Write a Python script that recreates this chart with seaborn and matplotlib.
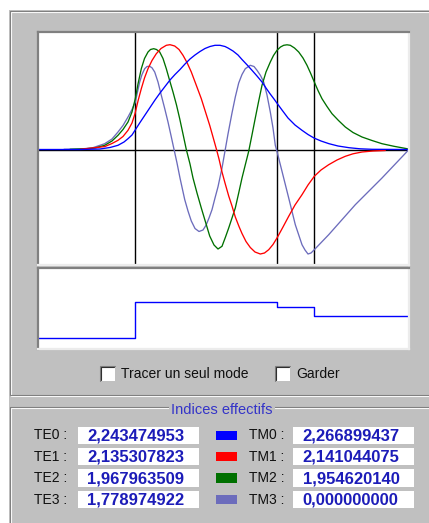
import pandas as pd
import seaborn as sns
import matplotlib.pyplot as plt
from matplotlib.patches import Rectangle

# mode field profiles (x in um, amplitude normalised)
mode0_x = [0.00, 0.42, 0.62, 0.72, 0.80, 0.86, 0.90, 0.94, 0.97, 1.02, 1.07, 1.12, 1.17, 1.22,
           1.27, 1.32, 1.37, 1.42, 1.47, 1.52, 1.57, 1.62, 1.67, 1.72, 1.77, 1.82, 1.87, 1.90,
           1.95, 2.00, 2.04, 2.09, 2.14, 2.19, 2.24, 2.28, 2.32, 2.36, 2.39, 2.44, 2.50, 2.57,
           2.64, 2.70, 2.76, 2.83, 2.91, 3.00, 3.11, 3.22, 3.34, 3.71]
mode0_y = [0.000, 0.000, 0.005, 0.020, 0.042, 0.075, 0.108, 0.145, 0.192, 0.270, 0.345, 0.420,
           0.495, 0.565, 0.630, 0.695, 0.750, 0.800, 0.855, 0.905, 0.945, 0.980, 1.010, 1.030,
           1.042, 1.042, 1.030, 1.015, 0.985, 0.945, 0.900, 0.847, 0.792, 0.735, 0.675, 0.615,
           0.558, 0.505, 0.463, 0.395, 0.315, 0.245, 0.192, 0.150, 0.115, 0.085, 0.058, 0.035,
           0.018, 0.007, 0.002, 0.000]

mode1_x = [0.42, 0.59, 0.67, 0.74, 0.80, 0.85, 0.90, 0.94, 0.97, 1.00, 1.033, 1.065, 1.10, 1.14,
           1.183, 1.23, 1.283, 1.32, 1.367, 1.41, 1.45, 1.49, 1.533, 1.58, 1.633, 1.675, 1.717,
           1.75, 1.785, 1.81, 1.84, 1.87, 1.907, 1.94, 1.973, 2.01, 2.04, 2.08, 2.123, 2.17,
           2.223, 2.265, 2.307, 2.35, 2.39, 2.45, 2.507, 2.57, 2.64, 2.70, 2.763, 2.83, 2.907,
           2.99, 3.073, 3.15, 3.24, 3.35, 3.473]
mode1_y = [0.002, 0.020, 0.030, 0.060, 0.092, 0.130, 0.192, 0.265, 0.358, 0.485, 0.608, 0.715,
           0.808, 0.890, 0.958, 1.010, 1.042, 1.048, 1.035, 1.000, 0.942, 0.870, 0.775, 0.650,
           0.508, 0.375, 0.242, 0.125, 0.000, -0.095, -0.225, -0.335, -0.465, -0.565, -0.675,
           -0.770, -0.840, -0.920, -0.980, -1.025, -1.045, -1.035, -1.002, -0.950, -0.885,
           -0.775, -0.668, -0.555, -0.452, -0.355, -0.268, -0.205, -0.152, -0.105, -0.068,
           -0.043, -0.025, -0.015, -0.010]

mode2_x = [0.32, 0.47, 0.57, 0.667, 0.74, 0.80, 0.85, 0.90, 0.94, 0.973, 1.00, 1.033, 1.065, 1.10,
           1.125, 1.157, 1.185, 1.217, 1.25, 1.283, 1.315, 1.35, 1.385, 1.417, 1.45, 1.483, 1.52,
           1.55, 1.59, 1.633, 1.675, 1.717, 1.76, 1.80, 1.84, 1.875, 1.907, 1.94, 1.973, 2.007,
           2.04, 2.075, 2.107, 2.14, 2.173, 2.205, 2.24, 2.28, 2.323, 2.355, 2.39, 2.425, 2.457,
           2.49, 2.523, 2.565, 2.607, 2.65, 2.69, 2.725, 2.763, 2.80, 2.84, 2.89, 2.94, 3.005,
           3.073, 3.15, 3.24, 3.34, 3.44, 3.56, 3.69, 3.71]
mode2_y = [0.002, 0.007, 0.015, 0.042, 0.085, 0.142, 0.200, 0.275, 0.375, 0.508, 0.655, 0.808,
           0.910, 0.975, 1.000, 1.008, 1.000, 0.975, 0.910, 0.808, 0.695, 0.575, 0.445, 0.308,
           0.155, 0.000, -0.145, -0.285, -0.435, -0.585, -0.725, -0.865, -0.955, -0.995, -0.968,
           -0.875, -0.785, -0.685, -0.585, -0.435, -0.285, -0.145, -0.018, 0.147, 0.315, 0.475,
           0.642, 0.775, 0.875, 0.940, 0.992, 1.025, 1.042, 1.047, 1.042, 1.015, 0.975, 0.915,
           0.842, 0.765, 0.675, 0.590, 0.508, 0.430, 0.358, 0.290, 0.225, 0.170, 0.125, 0.090,
           0.058, 0.032, 0.008, 0.000]

mode3_x = [0.26, 0.42, 0.54, 0.667, 0.74, 0.80, 0.85, 0.90, 0.94, 0.973, 0.995, 1.017, 1.04,
           1.067, 1.09, 1.117, 1.14, 1.167, 1.20, 1.233, 1.267, 1.30, 1.33, 1.36, 1.39, 1.42,
           1.467, 1.50, 1.533, 1.57, 1.61, 1.65, 1.68, 1.71, 1.74, 1.77, 1.80, 1.84, 1.87, 1.90,
           1.94, 1.973, 2.007, 2.04, 2.073, 2.123, 2.16, 2.19, 2.225, 2.257, 2.29, 2.323, 2.35,
           2.373, 2.39, 2.44, 2.507, 2.573, 2.64, 2.67, 2.70, 2.73, 2.763, 2.907, 3.173, 3.44,
           3.71]
mode3_y = [0.002, 0.005, 0.015, 0.058, 0.105, 0.175, 0.240, 0.325, 0.400, 0.475, 0.575, 0.675,
           0.750, 0.808, 0.830, 0.832, 0.817, 0.775, 0.675, 0.542, 0.410, 0.275, 0.140, 0.002,
           -0.135, -0.285, -0.500, -0.615, -0.715, -0.790, -0.820, -0.805, -0.758, -0.685,
           -0.602, -0.485, -0.373, -0.185, -0.015, 0.155, 0.365, 0.525, 0.665, 0.750, 0.808,
           0.842, 0.830, 0.792, 0.740, 0.675, 0.545, 0.375, 0.215, 0.042, -0.020, -0.218,
           -0.485, -0.752, -0.952, -1.005, -1.045, -1.035, -1.002, -0.852, -0.552, -0.285,
           0.000]

# refractive index profile
layer_x = [0.0, 0.97, 2.39, 2.76, 3.71]
layer_n = [1.50, 2.35, 2.225, 2.005, 2.005]
interfaces = [0.97, 2.39, 2.76]

mode_names = ["0", "1", "2", "3"]
mode_colors = ["#0000ff", "#ff0000", "#007000", "#6c6cbc"]
te_labels = ["TE0 :", "TE1 :", "TE2 :", "TE3 :"]
te_values = ["2,243474953", "2,135307823", "1,967963509", "1,778974922"]
tm_labels = ["TM0 :", "TM1 :", "TM2 :", "TM3 :"]
tm_values = ["2,266899437", "2,141044075", "1,954620140", "0,000000000"]

sns.set_style("white")
plt.rcParams['font.family'] = ['Liberation Sans', 'DejaVu Sans']

W, H = 429, 523
GRAY = "#c0c0c0"
DARK = "#808080"


def px_rect(x0, y0, x1, y1):
    return [x0 / W, 1 - y1 / H, (x1 - x0) / W, (y1 - y0) / H]


fig = plt.figure(figsize=(W / 100, H / 100), dpi=100, facecolor="white")

# window chrome, drawn in pixel coordinates
bg = fig.add_axes([0, 0, 1, 1])
bg.set_xlim(0, W)
bg.set_ylim(H, 0)
bg.axis("off")
bg.add_patch(Rectangle((8.5, 9.5), W, H, facecolor=GRAY, edgecolor="none"))
# etched frames
bg.add_patch(Rectangle((10.5, 11.5), W, 384, fill=False, edgecolor="white", lw=0.8))
bg.add_patch(Rectangle((9.5, 10.5), W, 384, fill=False, edgecolor=DARK, lw=0.8))
bg.add_patch(Rectangle((10.5, 407.5), W, 200, fill=False, edgecolor="white", lw=0.8))
bg.add_patch(Rectangle((9.5, 406.5), W, 200, fill=False, edgecolor=DARK, lw=0.8))
bg.text(222, 410, "Indices effectifs", ha="center", va="center", fontsize=10.5,
        color="#3434c8", bbox=dict(facecolor=GRAY, edgecolor="none", pad=1.5))

# check boxes
for x0, label in [(100, "Tracer un seul mode"), (275, "Garder")]:
    bg.add_patch(Rectangle((x0, 366), 14.5, 14.5, facecolor="white", edgecolor="none"))
    bg.plot([x0, x0, x0 + 14.5], [380.5, 366, 366], color=DARK, lw=0.8)
    bg.plot([x0 + 1, x0 + 1, x0 + 13.5], [379.5, 367, 367], color="#303030", lw=0.8)
    bg.text(x0 + 21, 373.5, label, ha="left", va="center", fontsize=10, color="#101010")

# effective index table
for i in range(4):
    yc = 435.3 + 21.4 * i
    bg.text(34, yc, te_labels[i], ha="left", va="center", fontsize=10, color="#101010")
    bg.add_patch(Rectangle((77.5, yc - 8.7), 121.5, 17.4, facecolor="white", edgecolor="none"))
    bg.text(87.5, yc + 0.5, te_values[i], ha="left", va="center", fontsize=12,
            fontweight="bold", color="#1c1cb8")
    bg.add_patch(Rectangle((216, yc - 4.7), 20.7, 9.4, facecolor=mode_colors[i], edgecolor="none"))
    bg.text(249, yc, tm_labels[i], ha="left", va="center", fontsize=10, color="#101010")
    bg.add_patch(Rectangle((292.5, yc - 8.7), 121, 17.4, facecolor="white", edgecolor="none"))
    bg.text(302.5, yc + 0.5, tm_values[i], ha="left", va="center", fontsize=12,
            fontweight="bold", color="#1c1cb8")


def style_box(ax):
    ax.set_facecolor("white")
    ax.set_xticks([])
    ax.set_yticks([])
    ax.set_xlabel("")
    ax.set_ylabel("")
    for side in ["top", "left"]:
        ax.spines[side].set_color(DARK)
        ax.spines[side].set_linewidth(1.6)
    for side in ["bottom", "right"]:
        ax.spines[side].set_color("#ececec")
        ax.spines[side].set_linewidth(1.6)
        ax.spines[side].set_visible(True)


# mode profiles
ax = fig.add_axes(px_rect(38, 32, 409, 265))
frames = []
for name, xs, ys in zip(mode_names, [mode0_x, mode1_x, mode2_x, mode3_x],
                        [mode0_y, mode1_y, mode2_y, mode3_y]):
    frames.append(pd.DataFrame({"x": xs, "amp": ys, "mode": name}))
df = pd.concat(frames, ignore_index=True)
ax.axhline(0, color="black", lw=1.0, zorder=1)
for xb in interfaces:
    ax.axvline(xb, color="black", lw=1.0, zorder=1)
sns.lineplot(data=df, x="x", y="amp", hue="mode", hue_order=["3", "2", "1", "0"],
             palette=dict(zip(mode_names, mode_colors)), estimator=None, sort=False,
             legend=False, lw=0.95, ax=ax, zorder=2)
ax.set_xlim(0, 3.71)
ax.set_ylim(-1.155, 1.175)
style_box(ax)

# index profile
ax2 = fig.add_axes(px_rect(38, 268.3, 409, 349.3))
sns.lineplot(x=layer_x, y=layer_n, drawstyle="steps-post", color="#0000ff", lw=1.0,
             estimator=None, ax=ax2)
ax2.set_xlim(0, 3.71)
ax2.set_ylim(1.226, 3.139)
style_box(ax2)

fig.savefig("out.png", dpi=100, facecolor="white")
